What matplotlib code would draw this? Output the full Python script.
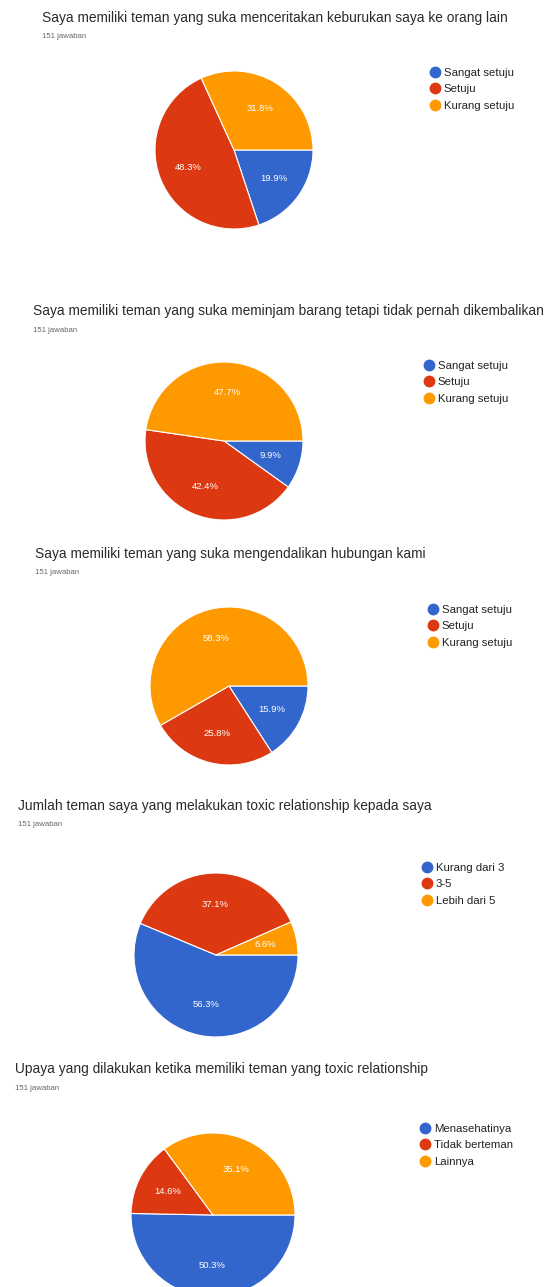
import matplotlib
matplotlib.use("Agg")
import matplotlib.pyplot as plt
from matplotlib.lines import Line2D

# ── data ─────────────────────────────────────────────
TITLES = [
    "Saya memiliki teman yang suka menceritakan keburukan saya ke orang lain",
    "Saya memiliki teman yang suka meminjam barang tetapi tidak pernah dikembalikan",
    "Saya memiliki teman yang suka mengendalikan hubungan kami",
    "Jumlah teman saya yang melakukan toxic relationship kepada saya",
    "Upaya yang dilakukan ketika memiliki teman yang toxic relationship",
]
RESPONSES = ["151 jawaban", "151 jawaban", "151 jawaban", "151 jawaban", "151 jawaban"]

LABELS_SETUJU = ["Sangat setuju", "Setuju", "Kurang setuju"]
LABELS_JUMLAH = ["Kurang dari 3", "3-5", "Lebih dari 5"]
LABELS_UPAYA = ["Menasehatinya", "Tidak berteman", "Lainnya"]

VALUES_1 = [19.9, 48.3, 31.8]
VALUES_2 = [9.9, 42.4, 47.7]
VALUES_3 = [15.9, 25.8, 58.3]
VALUES_4 = [56.3, 37.1, 6.6]
VALUES_5 = [50.3, 14.6, 35.1]

COLORS = ["#3366cc", "#dc3912", "#ff9900"]

# ── layout (pixels) ──────────────────────────────────
W, H = 558, 1287
panels = [
    # values, labels, title x, title y, pie cx, pie cy, radius, legend x, legend y
    (VALUES_1, LABELS_SETUJU, 42, 18, 234, 150, 79, 430, 75),
    (VALUES_2, LABELS_SETUJU, 33, 311, 224, 441, 79, 424, 368),
    (VALUES_3, LABELS_SETUJU, 35, 554, 229, 686, 79, 428, 612),
    (VALUES_4, LABELS_JUMLAH, 18, 806, 216, 955, 82, 422, 870),
    (VALUES_5, LABELS_UPAYA, 15, 1069, 213, 1215, 82, 420, 1131),
]

plt.rcParams['font.family'] = ['Liberation Sans', 'DejaVu Sans']
fig = plt.figure(figsize=(W / 100, H / 100), dpi=100)
fig.patch.set_facecolor("white")

for i, (vals, labs, tx, ty, cx, cy, r, lx, ly) in enumerate(panels):
    fig.text(tx / W, 1 - ty / H, TITLES[i], fontsize=9.9, color="#2a2a2a", va="center", ha="left")
    fig.text(tx / W, 1 - (ty + 19) / H, RESPONSES[i], fontsize=5.6, color="#666666", va="center", ha="left")

    ax = fig.add_axes([(cx - r) / W, 1 - (cy + r) / H, 2 * r / W, 2 * r / H])
    ax.pie(
        vals, colors=COLORS, startangle=0, counterclock=False,
        autopct=lambda p: f"{p:.1f}%", pctdistance=0.62,
        wedgeprops=dict(edgecolor="white", linewidth=0.8),
        textprops=dict(color="white", fontsize=6.8),
    )
    ax.set_aspect("equal")
    ax.set_xlim(-1, 1)
    ax.set_ylim(-1, 1)
    ax.axis("off")

    handles = [Line2D([0], [0], marker="o", linestyle="", markersize=7.5,
                      markerfacecolor=c, markeredgecolor=c) for c in COLORS]
    fig.legend(handles, labs, loc="upper left",
               bbox_to_anchor=(lx / W, 1 - (ly - 7) / H),
               frameon=False, fontsize=8.2, handletextpad=0.3,
               labelspacing=0.55, borderaxespad=0, borderpad=0,
               handlelength=0.9, labelcolor="#222222")

fig.savefig("out.png", dpi=100, facecolor="white")
